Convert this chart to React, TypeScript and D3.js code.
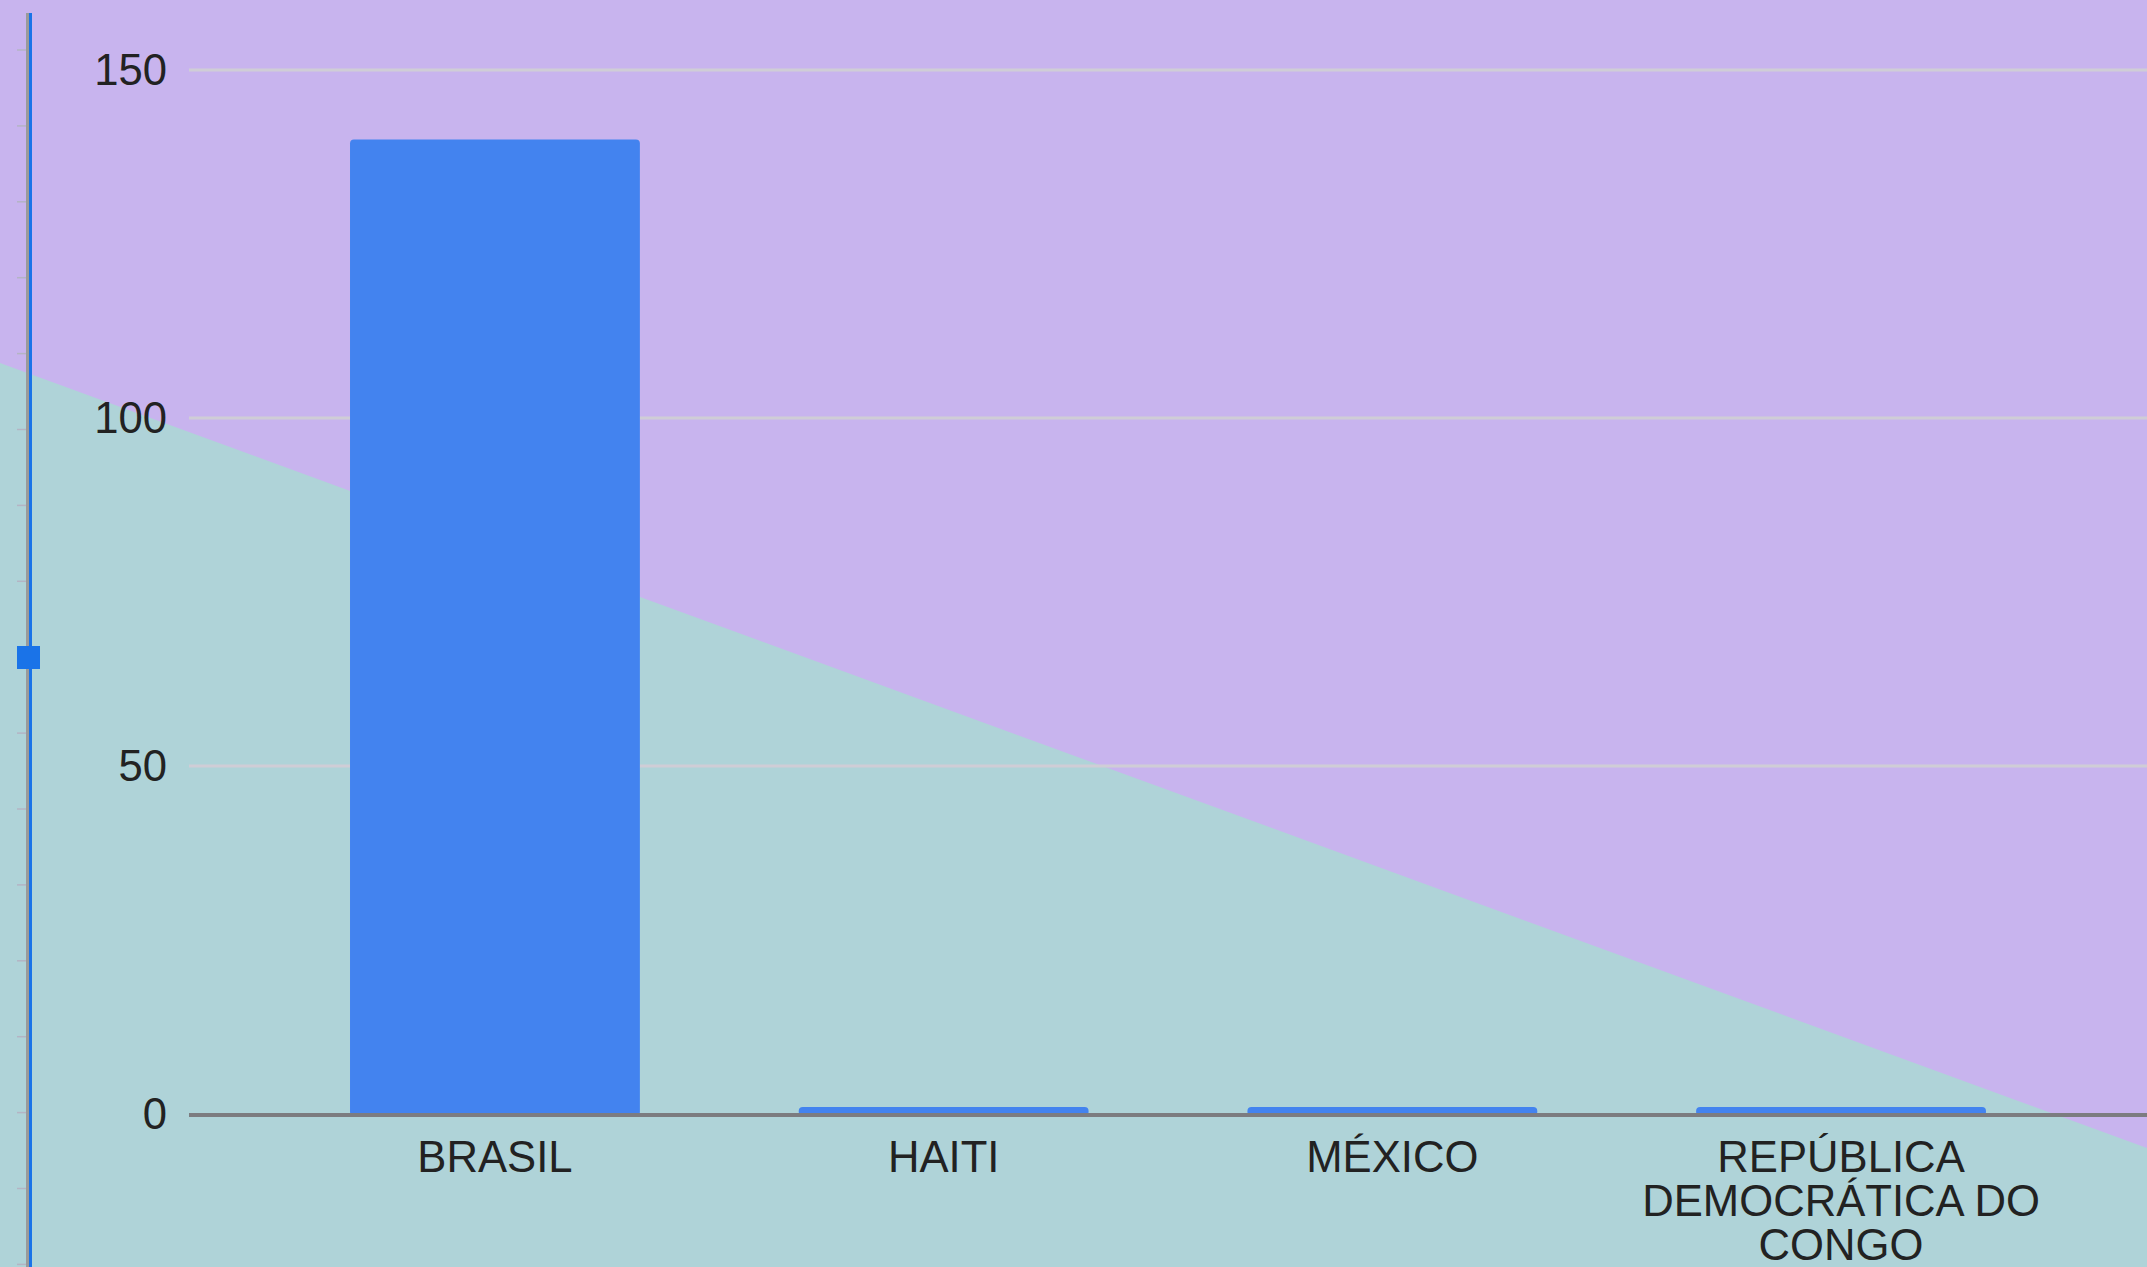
import { useEffect, useRef } from "react";
import * as d3 from "d3";

const categories = ["BRASIL", "HAITI", "MÉXICO", "REPÚBLICA DEMOCRÁTICA DO CONGO"];
const labelLines = [["BRASIL"], ["HAITI"], ["MÉXICO"], ["REPÚBLICA", "DEMOCRÁTICA DO", "CONGO"]];
const values = [140, 1, 1, 1];
const yTicks = [0, 50, 100, 150];

export default function App() {
  const svgRef = useRef<SVGSVGElement>(null);

  useEffect(() => {
    const svg = d3.select(svgRef.current);
    svg.selectAll("*").remove();

    const width = 2147;
    const height = 1267;
    const font = "'Liberation Sans', Arial, sans-serif";

    svg.attr("width", width).attr("height", height);

    // background split
    svg.append("rect").attr("width", width).attr("height", height).attr("fill", "#c8b4ee");
    svg.append("polygon")
      .attr("points", `0,363 ${width},1148 ${width},${height} 0,${height}`)
      .attr("fill", "#afd3d8");

    const x = d3.scaleBand<string>()
      .domain(categories)
      .range([270.6, 2065.4])
      .paddingInner(0.354)
      .paddingOuter(0.177);

    const y = d3.scaleLinear()
      .domain([0, 150])
      .range([1114, 70]);

    // gridlines
    svg.append("g")
      .selectAll("line")
      .data(yTicks.filter(d => d !== 0))
      .enter()
      .append("line")
      .attr("x1", 189)
      .attr("x2", width)
      .attr("y1", d => y(d))
      .attr("y2", d => y(d))
      .attr("stroke", "#cfcdd6")
      .attr("stroke-width", 3);

    // y labels
    svg.append("g")
      .selectAll("text")
      .data(yTicks)
      .enter()
      .append("text")
      .attr("transform", d => `translate(167,${y(d) + 15}) scale(0.97,1)`)
      .attr("text-anchor", "end")
      .attr("font-family", font)
      .attr("font-size", 45)
      .attr("fill", "#222")
      .text(d => d);

    // bars
    svg.append("g")
      .selectAll("rect")
      .data(values)
      .enter()
      .append("rect")
      .attr("x", (d, i) => x(categories[i])!)
      .attr("y", d => y(d))
      .attr("width", x.bandwidth())
      .attr("height", d => y(0) - y(d) + 2)
      .attr("rx", 4)
      .attr("fill", "#4383ef");

    // baseline
    svg.append("line")
      .attr("x1", 189)
      .attr("x2", width)
      .attr("y1", y(0) + 1)
      .attr("y2", y(0) + 1)
      .attr("stroke", "#7c7c80")
      .attr("stroke-width", 4);

    // x labels
    const xl = svg.append("g")
      .selectAll("g")
      .data(labelLines)
      .enter()
      .append("g")
      .attr("transform", (d, i) => `translate(${x(categories[i])! + x.bandwidth() / 2},1172) scale(0.97,1)`);

    xl.selectAll("text")
      .data(d => d)
      .enter()
      .append("text")
      .attr("y", (d, i) => i * 44)
      .attr("text-anchor", "middle")
      .attr("font-family", font)
      .attr("font-size", 45)
      .attr("fill", "#222")
      .text(d => d);

    // left slider decoration
    svg.append("g")
      .selectAll("line")
      .data(d3.range(17))
      .enter()
      .append("line")
      .attr("x1", 17)
      .attr("x2", 27)
      .attr("y1", i => 50 + i * 75.9)
      .attr("y2", i => 50 + i * 75.9)
      .attr("stroke", "#b4b4c4")
      .attr("stroke-width", 1.5);

    svg.append("line")
      .attr("x1", 27.5).attr("x2", 27.5)
      .attr("y1", 13).attr("y2", height)
      .attr("stroke", "#9a9a9a").attr("stroke-width", 3);
    svg.append("line")
      .attr("x1", 30.5).attr("x2", 30.5)
      .attr("y1", 13).attr("y2", height)
      .attr("stroke", "#1a73e8").attr("stroke-width", 3);
    svg.append("rect")
      .attr("x", 17).attr("y", 646)
      .attr("width", 23).attr("height", 23)
      .attr("fill", "#1a73e8");
  }, []);

  return <svg ref={svgRef} style={{ position: "fixed", left: 0, top: 0, display: "block" }} />;
}
